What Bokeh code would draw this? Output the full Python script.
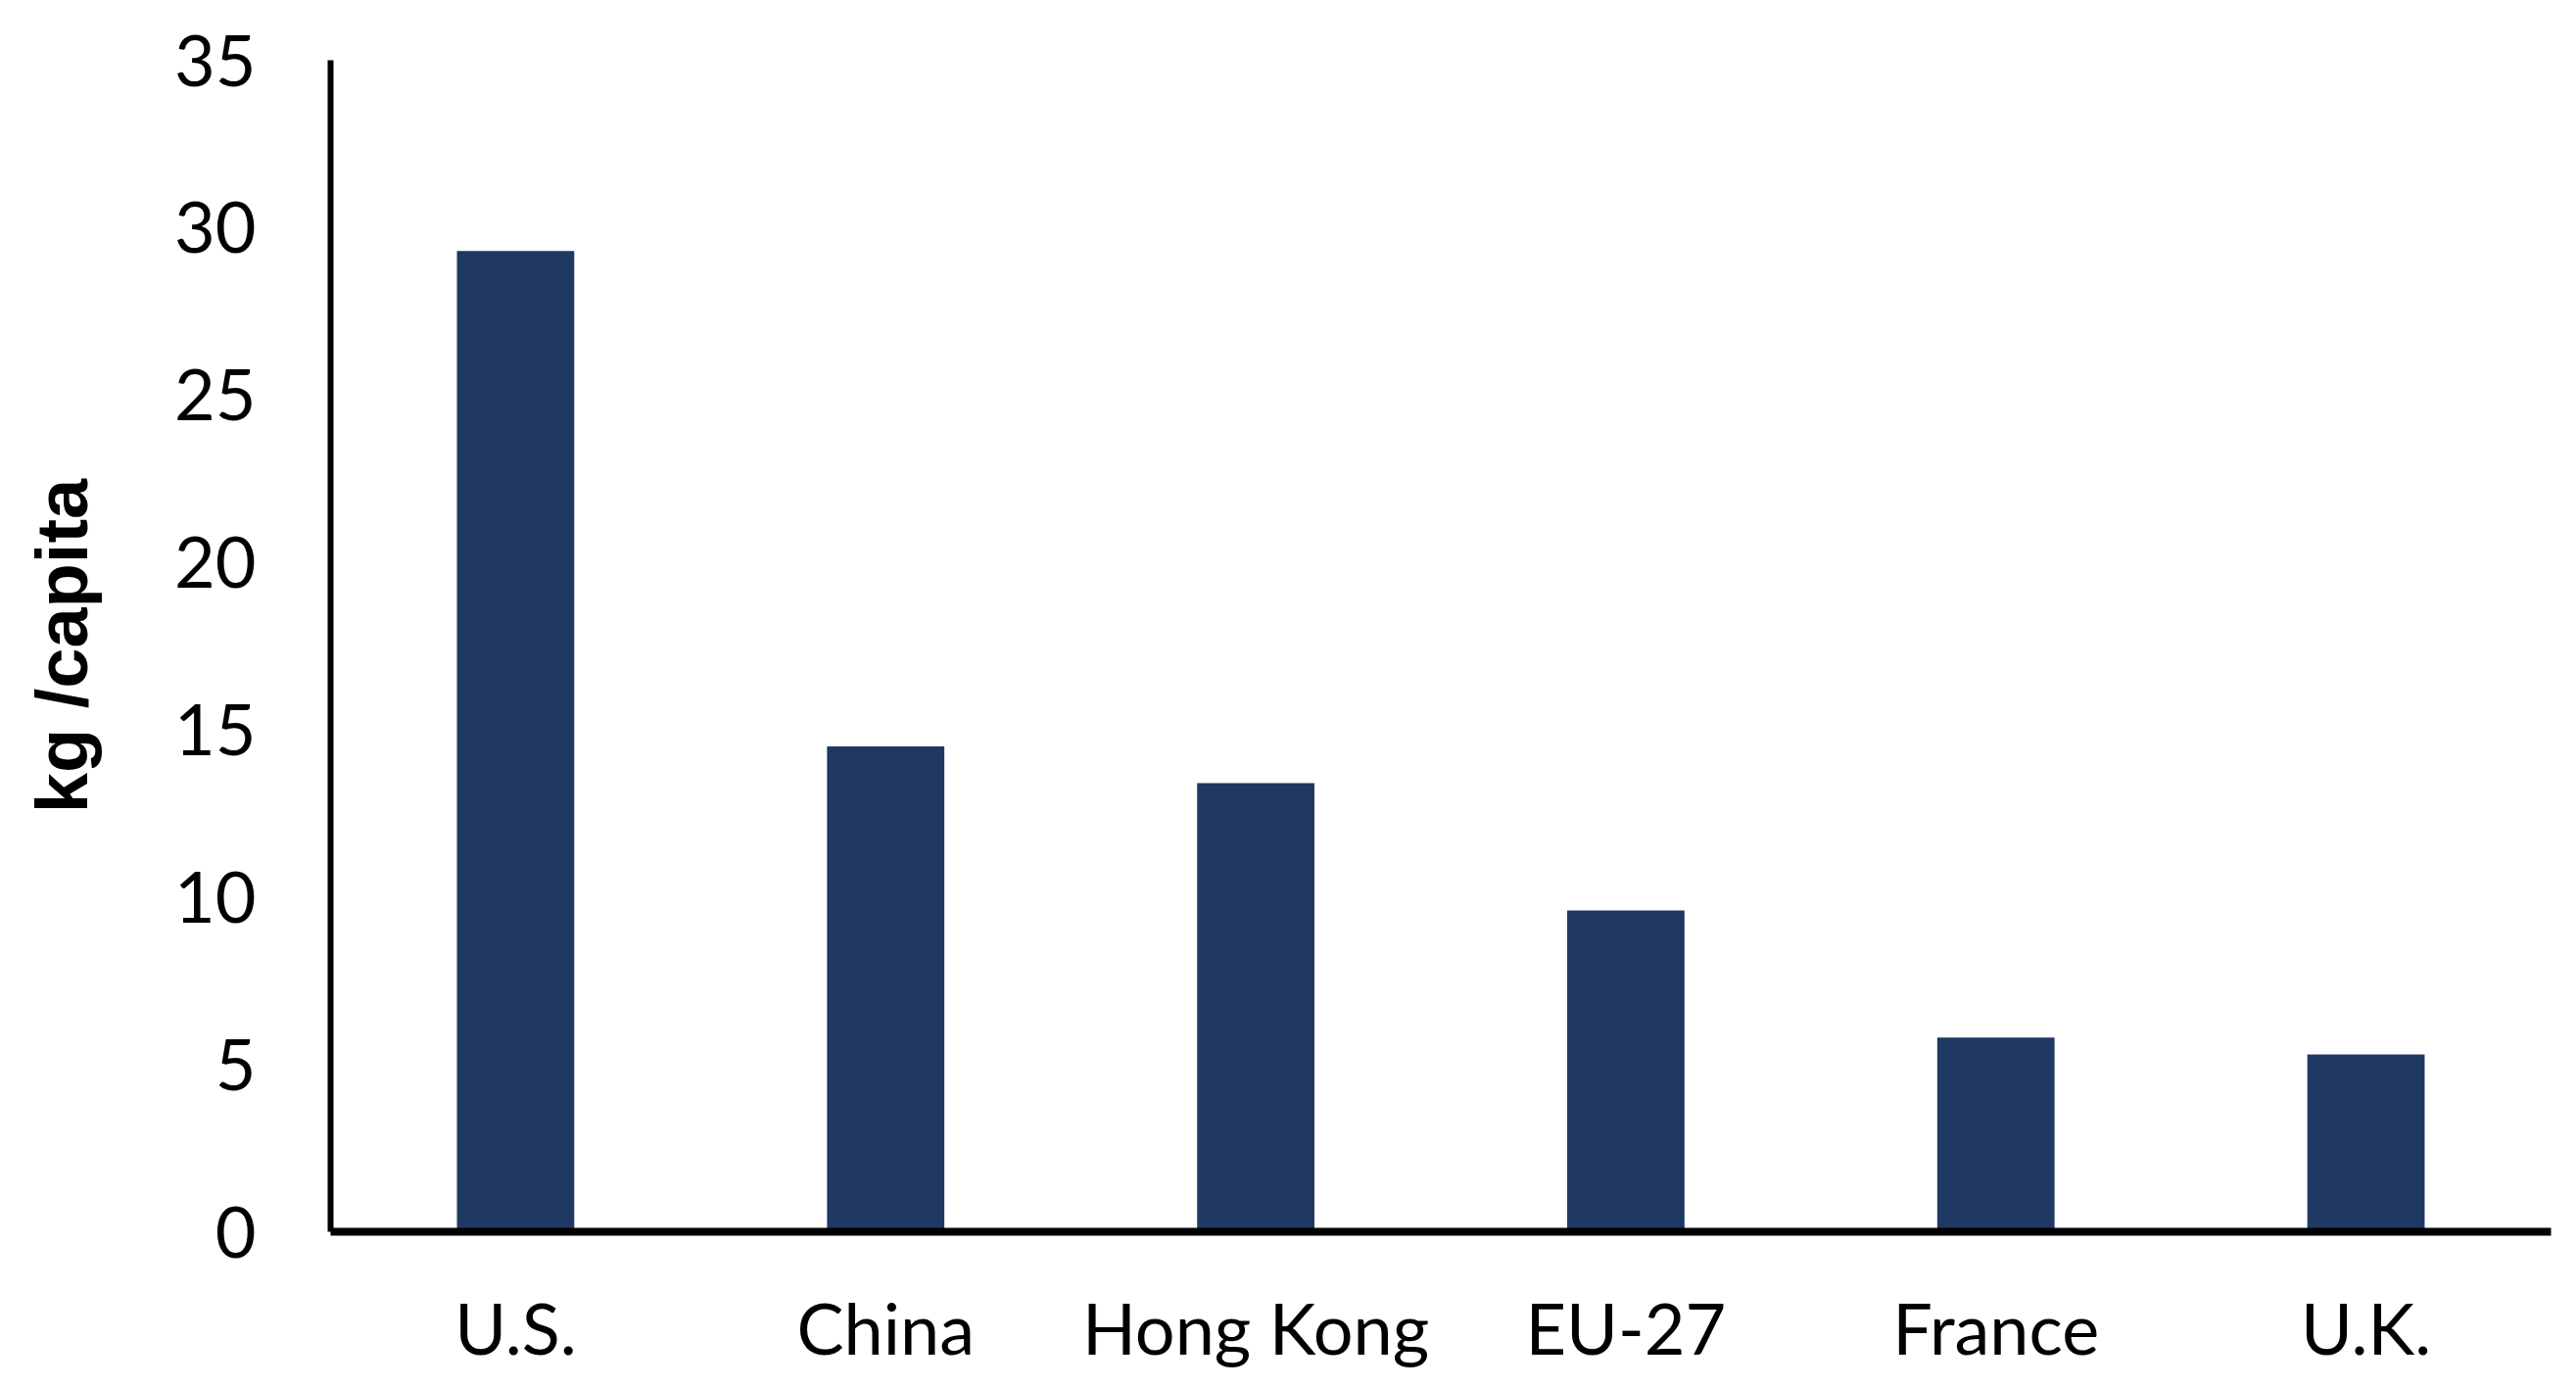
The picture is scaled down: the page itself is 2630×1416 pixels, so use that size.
from bokeh.plotting import figure
from bokeh.models import ColumnDataSource, FactorRange, FixedTicker, Range1d
from bokeh.embed import file_html
from bokeh.resources import INLINE

categories = ["U.S.", "China", "Hong Kong", "EU-27", "France", "U.K."]
values = [29.3, 14.5, 13.4, 9.6, 5.8, 5.3]
y_ticks = [0, 5, 10, 15, 20, 25, 30, 35]

src = ColumnDataSource(data=dict(cat=categories, val=values))

p = figure(
    x_range=FactorRange(*categories, range_padding=0),
    y_range=Range1d(0, 35),
    width=2614, height=1400,
    output_backend="svg", toolbar_location=None,
    min_border_left=337, min_border_right=10,
    min_border_top=61, min_border_bottom=142,
)
p.vbar(x="cat", top="val", width=0.317, source=src,
       fill_color="#203864", line_color=None)

p.xgrid.grid_line_color = None
p.ygrid.grid_line_color = None
p.outline_line_color = None
p.background_fill_color = "white"
p.border_fill_color = "white"

p.yaxis.ticker = FixedTicker(ticks=y_ticks)
p.yaxis.axis_line_width = 6
p.yaxis.axis_line_color = "black"
p.yaxis.major_tick_out = 0
p.yaxis.major_tick_in = 0
p.yaxis.minor_tick_out = 0
p.yaxis.minor_tick_in = 0
p.yaxis.major_label_text_font = "Lato"
p.yaxis.major_label_text_font_size = "72px"
p.yaxis.major_label_text_color = "black"
p.yaxis.major_label_standoff = 76
p.yaxis.axis_label = "kg /capita"
p.yaxis.axis_label_text_font = "Liberation Sans"
p.yaxis.axis_label_text_font_style = "bold"
p.yaxis.axis_label_text_font_size = "74px"
p.yaxis.axis_label_text_color = "black"
p.yaxis.axis_label_standoff = 70

p.xaxis.axis_line_width = 8
p.xaxis.axis_line_color = "black"
p.xaxis.major_tick_out = 0
p.xaxis.major_tick_in = 0
p.xaxis.major_label_text_font = "Lato"
p.xaxis.major_label_text_font_size = "72px"
p.xaxis.major_label_text_color = "black"
p.xaxis.major_label_standoff = 54

open("out.html", "w").write(file_html(p, INLINE))
